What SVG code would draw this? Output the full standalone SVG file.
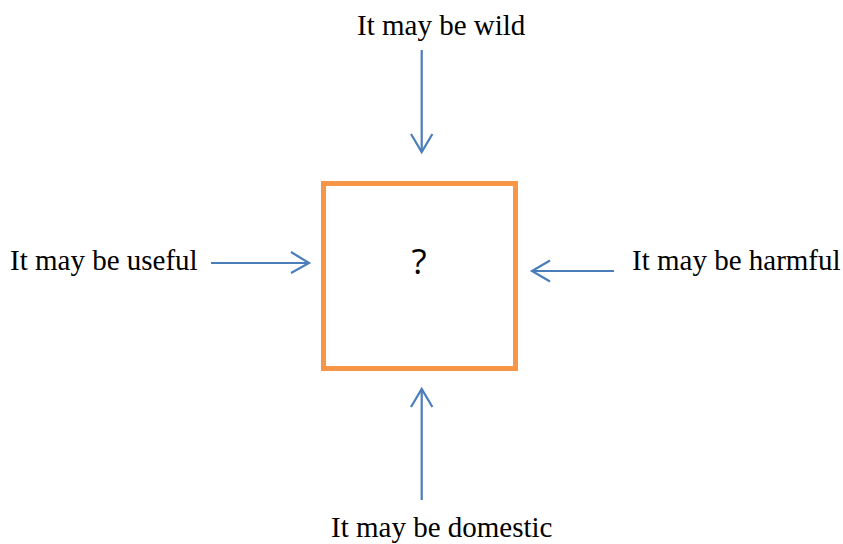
<svg xmlns="http://www.w3.org/2000/svg" width="843" height="544" viewBox="0 0 843 544">
<style>
.lbl{font-family:"Liberation Serif","Times New Roman",serif;font-size:29px;fill:#000}
.conn line,.conn polyline{stroke:#4A7EBB;stroke-width:2.2;fill:none}
</style>
<rect width="843" height="544" fill="#fff"/>
<g id="box">
<rect x="323.5" y="183.5" width="192" height="185" fill="#fff" stroke="#F79646" stroke-width="5"/>
<text x="419" y="274" text-anchor="middle" font-family="'Open Sans','DejaVu Sans',sans-serif" font-size="35" fill="#000">?</text>
</g>
<g id="wild"><text class="lbl" x="357" y="35">It may be wild</text></g>
<g id="useful"><text class="lbl" x="10" y="270">It may be useful</text></g>
<g id="harmful"><text class="lbl" x="632" y="270">It may be harmful</text></g>
<g id="domestic"><text class="lbl" x="331" y="537">It may be domestic</text></g>
<g class="conn" id="connectors">
<line x1="421.7" y1="50" x2="421.7" y2="152"/>
<polyline points="411,134 421.7,152 432.4,134"/>
<line x1="211" y1="263" x2="309" y2="263"/>
<polyline points="291,252 309,263 291,273"/>
<line x1="614" y1="271" x2="532" y2="271"/>
<polyline points="550,260.5 532,271 550,281.5"/>
<line x1="421.7" y1="500" x2="421.7" y2="389"/>
<polyline points="411,407 421.7,389 432.4,407"/>
</g>
</svg>
